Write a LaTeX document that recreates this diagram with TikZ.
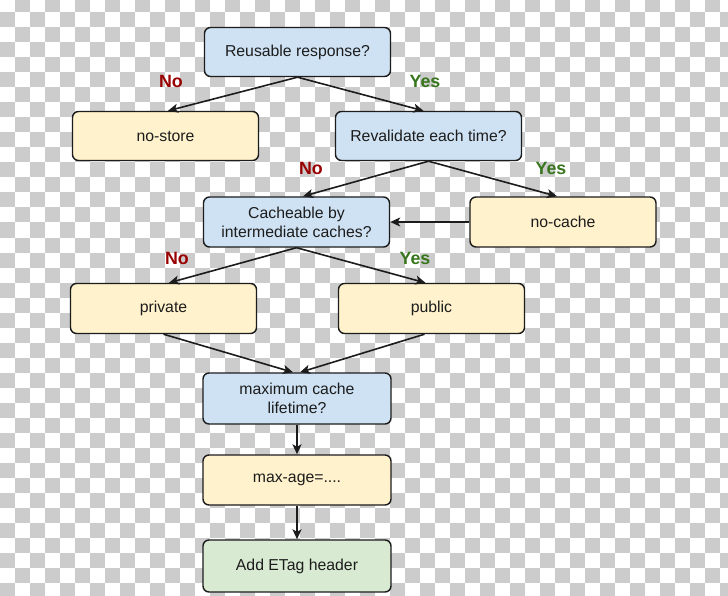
\documentclass[tikz,border=0pt]{standalone}
\usepackage{fontspec}
\setmainfont{Liberation Sans}
\usetikzlibrary{arrows.meta}
\definecolor{chk}{HTML}{CCCCCC}
\definecolor{qblue}{HTML}{CFE2F3}
\definecolor{ayel}{HTML}{FFF2CC}
\definecolor{agreen}{HTML}{D9EAD3}
\definecolor{nored}{HTML}{990000}
\definecolor{yesgreen}{HTML}{38761D}
\definecolor{ink}{HTML}{1C1C1C}
\begin{document}
\begin{tikzpicture}[x=1pt,y=-1pt,
 box/.style={draw=ink, line width=1.4pt, rounded corners=6pt, minimum width=186pt, minimum height=49pt, inner sep=0pt, align=center, font=\fontsize{15.8}{19}\selectfont, text=ink},
 question/.style={box, fill=qblue},
 answer/.style={box, fill=ayel},
 final/.style={box, fill=agreen},
 link/.style={draw=ink, line width=1.6pt, -{Stealth[length=10pt,width=9pt,inset=2.5pt]}},
 nolbl/.style={font=\fontsize{17.8}{20}\selectfont\bfseries, text=nored},
 yeslbl/.style={font=\fontsize{17.8}{20}\selectfont\bfseries, text=yesgreen}]
\useasboundingbox (0,0) rectangle (728,596);
\fill[white] (0,0) rectangle (728,596);
\begin{scope}
\clip (0,0) rectangle (728,596);
\foreach \r in {0,...,40}{
  \pgfmathtruncatemacro\s{mod(\r+1,2)}
  \pgfmathtruncatemacro\t{\s+2}
  \foreach \c in {\s,\t,...,48}{
    \fill[chk] (15*\c,15*\r-2.5) rectangle ++(15,15);
  }
}
\end{scope}

\node[question] (reuse) at (297.5,52) {Reusable response?};
\node[answer] (nostore) at (165.5,136) {no-store};
\node[question] (reval) at (428.5,136) {Revalidate each time?};
\node[question, minimum height=50pt] (cacheable) at (296.5,222) {Cacheable by\\intermediate caches?};
\node[answer, minimum height=50pt] (nocache) at (563,222) {no-cache};
\node[answer, minimum height=50pt] (private) at (163.5,308.5) {private};
\node[answer, minimum height=50pt] (public) at (431.5,308.5) {public};
\node[question, minimum height=51pt, minimum width=188pt] (maxq) at (297,398.5) {maximum cache\\lifetime?};
\node[answer, minimum height=50pt, minimum width=188pt] (maxage) at (297,480) {max-age=....};
\node[final, minimum height=52pt, minimum width=188pt] (etag) at (297,566) {Add ETag header};

\node[nolbl] (no1) at (171,81) {No};
\node[yeslbl] (yes1) at (425,81) {Yes};
\node[nolbl] (no2) at (311,168) {No};
\node[yeslbl] (yes2) at (551,168) {Yes};
\node[nolbl] (no3) at (177,258) {No};
\node[yeslbl] (yes3) at (415,258) {Yes};

\draw[link] (reuse.south) -- ([xshift=2.5pt]nostore.north);
\draw[link] (reuse.south) -- ([xshift=-5pt]reval.north);
\draw[link] (reval.south) -- ([xshift=6.5pt]cacheable.north);
\draw[link] (reval.south) -- ([xshift=-6pt]nocache.north);
\draw[link] (nocache.west) -- (cacheable.east);
\draw[link] (cacheable.south) -- ([xshift=5.5pt]private.north);
\draw[link] (cacheable.south) -- ([xshift=-6pt]public.north);
\draw[link] (private.south) -- ([xshift=-4pt]maxq.north);
\draw[link] ([xshift=-7pt]public.south) -- ([xshift=3pt]maxq.north);
\draw[link] (maxq.south) -- (maxage.north);
\draw[link] (maxage.south) -- (etag.north);
\end{tikzpicture}
\end{document}
